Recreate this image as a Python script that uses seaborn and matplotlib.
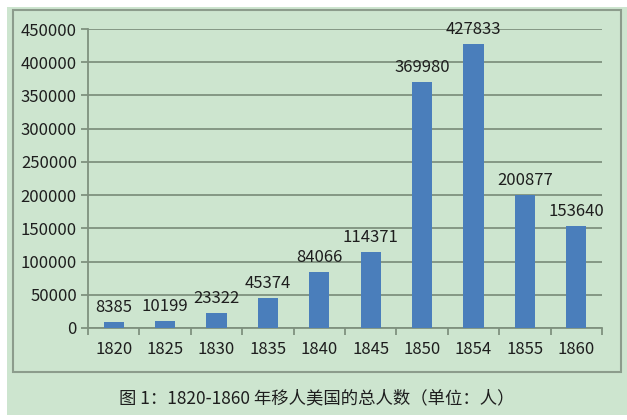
import matplotlib
matplotlib.use("Agg")
import matplotlib.pyplot as plt
import seaborn as sns
import pandas as pd
from matplotlib.patches import Rectangle

years = ["1820", "1825", "1830", "1835", "1840", "1845", "1850", "1854", "1855", "1860"]
immigrants = [8385, 10199, 23322, 45374, 84066, 114371, 369980, 427833, 200877, 153640]
y_ticks = [0, 50000, 100000, 150000, 200000, 250000, 300000, 350000, 400000, 450000]
caption = "图 1：1820-1860 年移人美国的总人数（单位：人）"

sns.set_theme(style="white")
plt.rcParams['font.family'] = ['Noto Sans CJK SC', 'DejaVu Sans']

green = "#cde5cf"
grid_c = "#7f917f"
bar_c = "#4a7ebb"
txt_c = "#1e1e1e"

df = pd.DataFrame({"year": years, "count": immigrants})

fig = plt.figure(figsize=(6.27, 4.2), dpi=100, facecolor="white")
# green panel and chart frame
fig.patches.append(Rectangle((7 / 627, 5 / 420), 620 / 627, 408 / 420,
                             transform=fig.transFigure, facecolor=green,
                             edgecolor="none", zorder=-10))
fig.patches.append(Rectangle((13 / 627, 48 / 420), 608 / 627, 362 / 420,
                             transform=fig.transFigure, facecolor="none",
                             edgecolor="#8c9c8c", linewidth=1.5, zorder=-9))

ax = fig.add_axes([88 / 627, 92 / 420, 514 / 627, 299 / 420])
ax.set_zorder(5)
ax.set_facecolor("none")
sns.barplot(data=df, x="year", y="count", color=bar_c, width=0.39,
            saturation=1, linewidth=0, ax=ax, zorder=3)

ax.set_ylim(0, 450000)
ax.set_xlim(-0.5, len(years) - 0.5)
ax.set_yticks(y_ticks)
ax.set_yticklabels([str(t) for t in y_ticks])
ax.yaxis.grid(True, color=grid_c, linewidth=1.3, zorder=0)
ax.set_axisbelow(True)
ax.set_xlabel("")
ax.set_ylabel("")

for s in ["top", "right"]:
    ax.spines[s].set_visible(False)
for s in ["left", "bottom"]:
    ax.spines[s].set_color(grid_c)
    ax.spines[s].set_linewidth(1.3)

# category boundary ticks on x axis
ax.set_xticks(range(len(years)))
ax.set_xticklabels(years)
ax.set_xticks([i - 0.5 for i in range(len(years) + 1)], minor=True)
ax.tick_params(axis="x", which="major", length=0, pad=9, labelsize=12, labelcolor=txt_c)
ax.tick_params(axis="x", which="minor", bottom=True, length=5, color=grid_c, width=1.3)
ax.tick_params(axis="y", left=True, length=5, color=grid_c, width=1.3, pad=3,
               labelsize=12, labelcolor=txt_c)

for i, v in enumerate(immigrants):
    ax.text(i, v + 9000, str(v), ha="center", va="bottom", fontsize=12, color=txt_c)

fig.text(0.505, 22 / 420, caption, ha="center", va="center", fontsize=12.5, color=txt_c)

fig.savefig("out.png", dpi=100, facecolor=fig.get_facecolor())
